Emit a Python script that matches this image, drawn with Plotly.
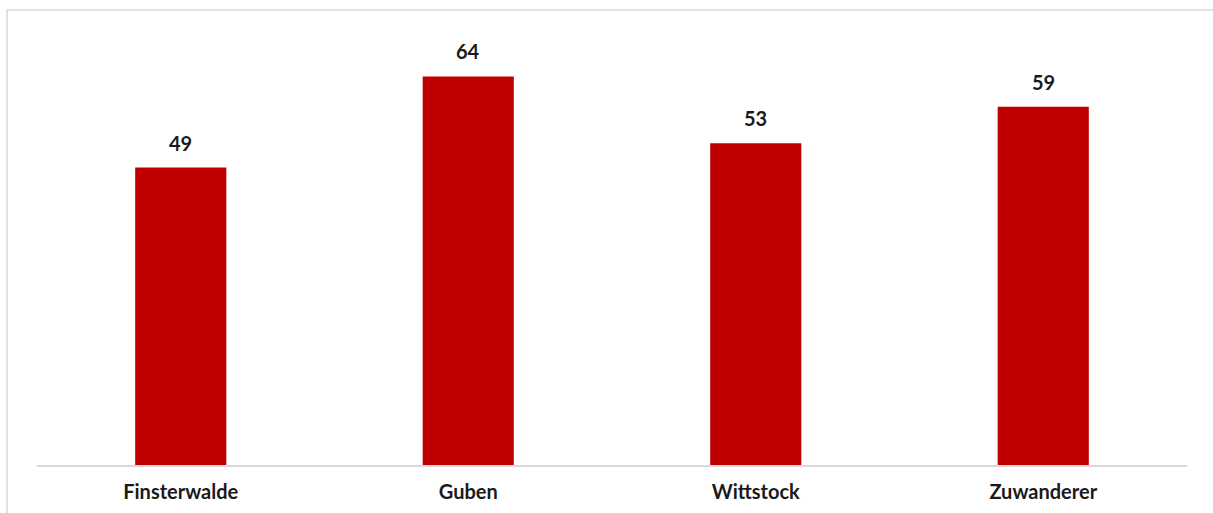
import plotly.graph_objects as go

categories = ["Finsterwalde", "Guben", "Wittstock", "Zuwanderer"]
values = [49, 64, 53, 59]

W, H = 1213, 513
L, R, T, B = 37, 26, 40, 47.5
pw, ph = W - L - R, H - T - B

fig = go.Figure()
fig.add_trace(go.Bar(
    x=categories, y=values, marker_color="#C00000", width=0.317,
    marker_line_width=0, hoverinfo="skip",
))

for c, v in zip(categories, values):
    fig.add_annotation(x=c, y=v, text=f"<b>{v}</b>", showarrow=False,
                       yanchor="middle", yshift=25,
                       font=dict(family="Lato", size=20, color="#1a1a1a"))

# outer chart frame (left and top edges visible)
fig.add_shape(type="rect", xref="paper", yref="paper",
              x0=(7 - L) / pw, x1=1.2, y0=-0.3, y1=(H - B - 10) / ph,
              line=dict(color="#d9d9d9", width=1.5), layer="below")

fig.update_layout(
    width=W, height=H, margin=dict(l=L, r=R, t=T, b=B, autoexpand=False),
    paper_bgcolor="white", plot_bgcolor="white", showlegend=False,
    bargap=0.683,
    xaxis=dict(showline=True, linecolor="#d9d9d9", linewidth=1.5,
               showgrid=False, ticks="", ticklabelstandoff=8, automargin=False,
               tickfont=dict(family="Lato", size=20, color="#1a1a1a", weight="bold")),
    yaxis=dict(range=[0, 70], visible=False, showgrid=False, zeroline=False,
               automargin=False),
)

fig.write_html("out.html")
